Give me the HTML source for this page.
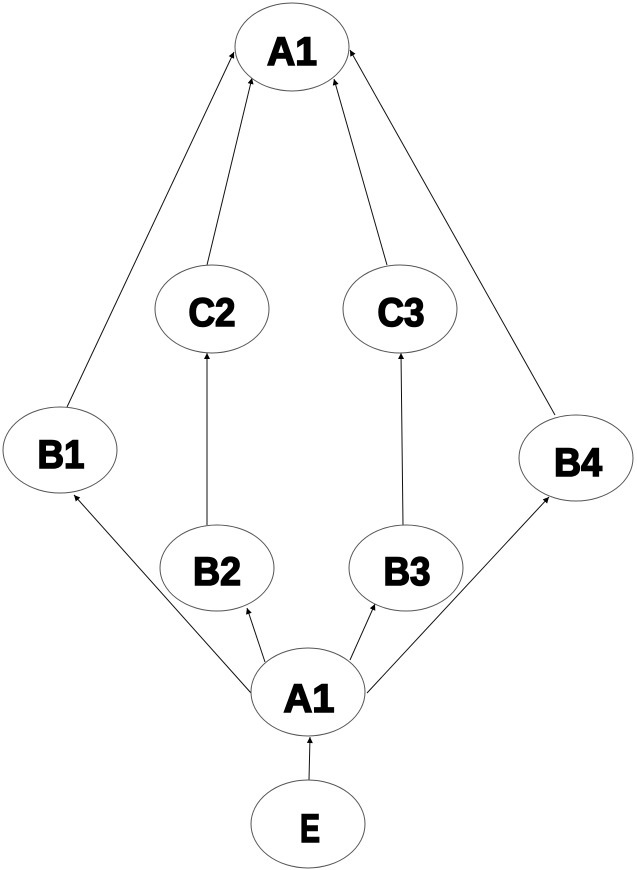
<!DOCTYPE html>
<html>
<head>
<meta charset="utf-8">
<style>
  html, body { margin: 0; padding: 0; background: #fff; }
  svg { display: block; }
  text { font-family: "Liberation Sans", sans-serif; font-weight: bold; font-size: 40px; fill: #000; stroke: #000; stroke-width: 1.6; }
</style>
</head>
<body>
<svg width="637" height="870" viewBox="0 0 637 870" xmlns="http://www.w3.org/2000/svg">
  <defs>
    <marker id="ah" viewBox="0 0 10 10" refX="10" refY="5" markerWidth="7" markerHeight="6" markerUnits="userSpaceOnUse" orient="auto">
      <path d="M0,0 L10,5 L0,10 z" fill="#000"/>
    </marker>
  </defs>
  <g stroke="#111" stroke-width="1" fill="none">
    <line x1="67" y1="407" x2="234" y2="52" marker-end="url(#ah)"/>
    <line x1="207" y1="265" x2="252" y2="78" marker-end="url(#ah)"/>
    <line x1="387" y1="265" x2="334" y2="79" marker-end="url(#ah)"/>
    <line x1="555" y1="415" x2="350" y2="50" marker-end="url(#ah)"/>
    <line x1="207" y1="525" x2="207" y2="353" marker-end="url(#ah)"/>
    <line x1="403" y1="525" x2="401" y2="353" marker-end="url(#ah)"/>
    <line x1="251" y1="693" x2="74" y2="495" marker-end="url(#ah)"/>
    <line x1="265" y1="662" x2="247" y2="608" marker-end="url(#ah)"/>
    <line x1="350" y1="660" x2="375" y2="604" marker-end="url(#ah)"/>
    <line x1="367" y1="693" x2="549" y2="497" marker-end="url(#ah)"/>
    <line x1="309" y1="780" x2="310" y2="737" marker-end="url(#ah)"/>
  </g>
  <g stroke="#555" stroke-width="1" fill="#fff">
    <ellipse cx="292" cy="47" rx="57" ry="44"/>
    <ellipse cx="212" cy="309" rx="57" ry="44"/>
    <ellipse cx="400" cy="309" rx="57" ry="44"/>
    <ellipse cx="60" cy="450" rx="57" ry="43"/>
    <ellipse cx="576" cy="458" rx="57" ry="43"/>
    <ellipse cx="217" cy="568" rx="57" ry="43"/>
    <ellipse cx="406" cy="568" rx="57" ry="43"/>
    <ellipse cx="308" cy="692" rx="57" ry="44"/>
    <ellipse cx="308" cy="824" rx="57" ry="44"/>
  </g>
  <g text-anchor="middle">
    <text x="292" y="65" textLength="50" lengthAdjust="spacingAndGlyphs">A1</text>
    <text x="212" y="326" textLength="47" lengthAdjust="spacingAndGlyphs">C2</text>
    <text x="401" y="326" textLength="47" lengthAdjust="spacingAndGlyphs">C3</text>
    <text x="61" y="468" textLength="47" lengthAdjust="spacingAndGlyphs">B1</text>
    <text x="578" y="476" textLength="48" lengthAdjust="spacingAndGlyphs">B4</text>
    <text x="217" y="585" textLength="48" lengthAdjust="spacingAndGlyphs">B2</text>
    <text x="407" y="585" textLength="47" lengthAdjust="spacingAndGlyphs">B3</text>
    <text x="309" y="712" textLength="51" lengthAdjust="spacingAndGlyphs">A1</text>
    <text x="310" y="842" textLength="20" lengthAdjust="spacingAndGlyphs">E</text>
  </g>
</svg>
</body>
</html>
